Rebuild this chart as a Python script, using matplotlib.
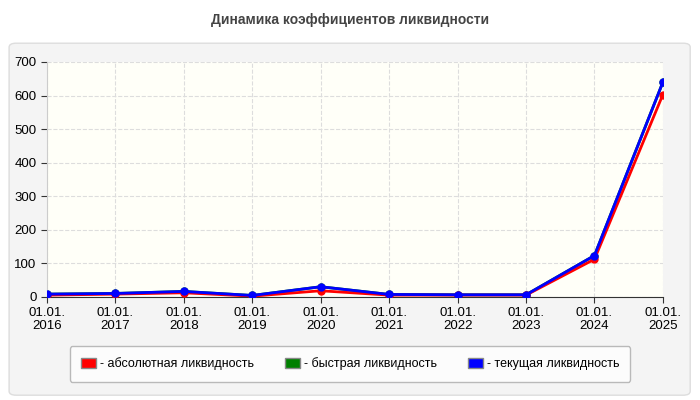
import matplotlib

matplotlib.use("Agg")
import matplotlib.pyplot as plt
from matplotlib.patches import FancyBboxPatch

plt.rcParams["font.family"] = ["Liberation Sans", "DejaVu Sans"]

dates = ["01.01.\n2016", "01.01.\n2017", "01.01.\n2018", "01.01.\n2019", "01.01.\n2020",
         "01.01.\n2021", "01.01.\n2022", "01.01.\n2023", "01.01.\n2024", "01.01.\n2025"]
absolute = [5, 8, 12, 2, 18, 5, 5, 5, 112, 603]
quick = [8, 10, 16, 4, 30, 7, 6, 6, 123, 640]
current = [8, 10, 16, 4, 30, 7, 6, 6, 123, 640]

fig = plt.figure(figsize=(7, 4), dpi=100)
fig.patch.set_facecolor("white")
panel = FancyBboxPatch((0.013, 0.012), 0.973, 0.88, boxstyle="round,pad=0,rounding_size=0.01",
                       transform=fig.transFigure, facecolor="#f4f4f4", edgecolor="#dddddd", lw=1,
                       zorder=-10)
fig.patches.append(panel)
fig.text(0.5, 0.95, "Динамика коэффициентов ликвидности", ha="center", va="center",
         fontsize=10, fontweight="bold", color="#444444")

ax = fig.add_axes([0.067, 0.258, 0.88, 0.587])
ax.set_zorder(1)
ax.set_facecolor("#fffff8")
x = range(len(dates))
ax.plot(x, quick, color="green", lw=2, marker="o", ms=5, zorder=2)
ax.plot(x, absolute, color="red", lw=2, marker="o", ms=5, zorder=3)
ax.plot(x, current, color="blue", lw=2, marker="o", ms=5, zorder=4)
ax.set_xlim(0, len(dates) - 1)
ax.set_ylim(0, 700)
ax.set_xticks(list(x))
ax.set_xticklabels(dates, fontsize=9.5, linespacing=1.1)
ax.set_yticks(range(0, 701, 100))
ax.tick_params(labelsize=9.5, length=4, color="#333333")
ax.grid(True, ls="--", color="#dddddd", lw=0.8)
for s in ["top", "right"]:
    ax.spines[s].set_visible(False)
ax.spines["left"].set_color("#cccccc")
ax.spines["bottom"].set_color("#333333")

handles = [plt.Rectangle((0, 0), 1, 1, facecolor=c, edgecolor="#888888") for c in ["red", "green", "blue"]]
leg = fig.legend(handles, ["- абсолютная ликвидность", "- быстрая ликвидность", "- текущая ликвидность"],
                 loc="center", bbox_to_anchor=(0.5, 0.09), ncol=3, fontsize=9, frameon=True,
                 facecolor="white", edgecolor="#aaaaaa", handlelength=1.2, handleheight=0.8,
                 handletextpad=0.3, columnspacing=2.5, borderpad=0.9, fancybox=True)
leg.set_zorder(2)

fig.savefig("out.png", dpi=100)
